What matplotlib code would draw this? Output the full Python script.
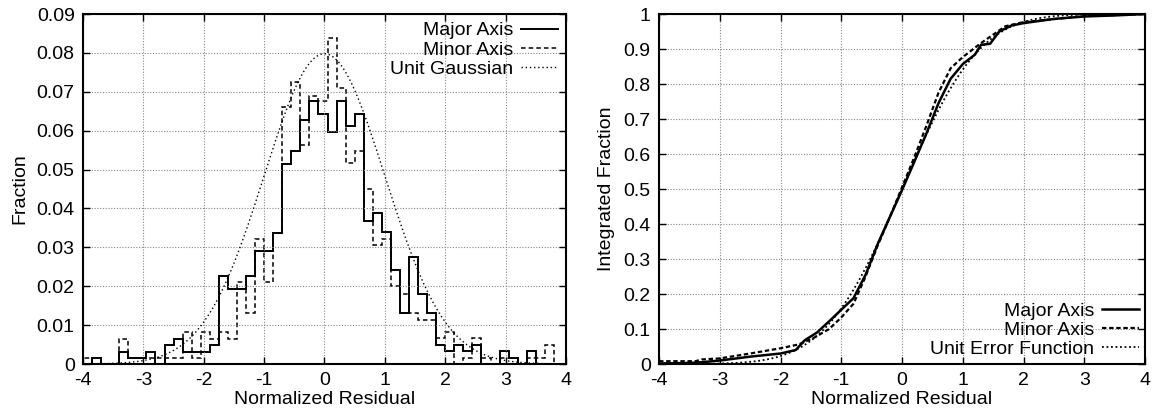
import math
import numpy as np
import matplotlib
matplotlib.use("Agg")
import matplotlib.pyplot as plt

plt.rcParams['font.family'] = ['Liberation Sans', 'DejaVu Sans']
plt.rcParams['font.size'] = 14
plt.rcParams['axes.unicode_minus'] = False

# histogram bins: -4 .. 3.95, width 0.15
bin_edges = np.round(-4 + 0.15 * np.arange(54), 2)

major_frac = [0, 0.0016, 0, 0, 0.0032, 0.0016, 0.0016, 0.0032, 0, 0.0049,
              0.0065, 0.0032, 0.0032, 0.0032, 0.0049, 0.0226, 0.0193, 0.0193, 0.0226, 0.029,
              0.029, 0.0338, 0.0515, 0.0548, 0.0627, 0.0677, 0.0644, 0.0597, 0.0677, 0.0612,
              0.0644, 0.0369, 0.0389, 0.0339, 0.0243, 0.013, 0.0274, 0.0179, 0.013, 0.005,
              0.0033, 0.005, 0.0033, 0.005, 0, 0, 0.0033, 0.0016, 0, 0.0033,
              0, 0, 0]
minor_frac = [0.0016, 0, 0, 0, 0.0065, 0.0016, 0.0016, 0.0016, 0.0016, 0.0016,
              0.0016, 0.0082, 0.0016, 0.0082, 0.0065, 0.0082, 0.0065, 0.021, 0.013, 0.0322,
              0.021, 0.0338, 0.066, 0.0725, 0.0563, 0.069, 0.0677, 0.0838, 0.071, 0.0516,
              0.0548, 0.0449, 0.0305, 0.0322, 0.020, 0.0179, 0.013, 0.0114, 0.0114, 0.0067,
              0.0082, 0, 0.0016, 0.0067, 0.0016, 0, 0.0016, 0.0016, 0, 0.0016,
              0.0016, 0.005, 0]

# integrated fractions
major_cdf_x = [-4, -3.5, -3.3, -3.0, -2.5, -2.0, -1.75, -1.6, -1.4, -1.2, -1.0, -0.8, -0.6,
               -0.4, -0.2, 0.0, 0.2, 0.4, 0.6, 0.8, 1.0, 1.2, 1.3, 1.45, 1.6, 1.8, 2.0,
               2.5, 3.0, 3.5, 4.0]
major_cdf = [0.0015, 0.003, 0.005, 0.01, 0.021, 0.03, 0.04, 0.068, 0.09, 0.122, 0.155,
             0.188, 0.255, 0.343, 0.42, 0.497, 0.577, 0.658, 0.745, 0.815, 0.857, 0.884,
             0.912, 0.915, 0.95, 0.967, 0.974, 0.986, 0.993, 0.996, 1.0]
minor_cdf_x = [-4, -3.4, -3.3, -3.0, -2.5, -2.0, -1.7, -1.45, -1.2, -1.0, -0.8, -0.6, -0.4,
               -0.2, 0.0, 0.2, 0.4, 0.6, 0.8, 1.0, 1.3, 1.5, 1.7, 2.0, 3.0, 4.0]
minor_cdf = [0.008, 0.008, 0.013, 0.016, 0.03, 0.045, 0.056, 0.075, 0.1, 0.133, 0.172,
             0.25, 0.339, 0.42, 0.505, 0.59, 0.68, 0.775, 0.845, 0.877, 0.917, 0.941,
             0.965, 0.977, 0.994, 1.0]

labels_hist = ['Major Axis', 'Minor Axis', 'Unit Gaussian']
labels_cdf = ['Major Axis', 'Minor Axis', 'Unit Error Function']

gauss_scale = 0.2  # unit gaussian times 0.2


def style_axes(ax, ylim, yticks, yfmt):
    ax.set_xlim(-4, 4)
    ax.set_ylim(*ylim)
    ax.set_xticks(range(-4, 5))
    ax.set_yticks(yticks)
    ax.set_yticklabels([yfmt(v) for v in yticks])
    ax.tick_params(direction='in', top=True, right=True, length=5, width=1, pad=6)
    ax.grid(True, color='#888888', linestyle=(0, (1, 1.5)), linewidth=0.8)
    for sp in ax.spines.values():
        sp.set_linewidth(1.5)
    ax.set_xlabel('Normalized Residual', labelpad=1)


fig = plt.figure(figsize=(11.56, 4.2), dpi=100)
ax1 = fig.add_axes([0.0718, 0.1333, 0.4178, 0.8333])
ax2 = fig.add_axes([0.5701, 0.1333, 0.4204, 0.8333])

ax1.stairs(major_frac, bin_edges, color='black', linewidth=1.4, label=labels_hist[0])
ax1.stairs(minor_frac, bin_edges, color='black', linewidth=1.1,
           linestyle=(0, (3, 2)), label=labels_hist[1])
xs = np.linspace(-4, 4, 400)
ax1.plot(xs, gauss_scale * np.exp(-xs ** 2 / 2) / np.sqrt(2 * np.pi), color='black',
         linewidth=1.0, linestyle=(0, (1, 2)), label=labels_hist[2])
style_axes(ax1, (0, 0.09), np.round(np.arange(0, 0.091, 0.01), 2),
           lambda v: '0' if v == 0 else f'{v:.2f}')
ax1.set_ylabel('Fraction', labelpad=6)
ax1.legend(loc='upper right', frameon=False, markerfirst=False, handlelength=1.9,
           handletextpad=0.4, labelspacing=0.08, borderaxespad=0.2, borderpad=0.2,
           alignment='right')

erf = np.vectorize(math.erf)
ax2.plot(major_cdf_x, major_cdf, color='black', linewidth=1.8, label=labels_cdf[0])
ax2.plot(minor_cdf_x, minor_cdf, color='black', linewidth=1.6,
         linestyle=(0, (2, 1.2)), label=labels_cdf[1])
ax2.plot(xs, 0.5 * (1 + erf(xs / np.sqrt(2))), color='black', linewidth=1.3,
         linestyle=(0, (1, 1.5)), label=labels_cdf[2])
style_axes(ax2, (0, 1), np.round(np.arange(0, 1.01, 0.1), 1),
           lambda v: f'{v:g}')
ax2.set_ylabel('Integrated Fraction', labelpad=6)
ax2.legend(loc='lower right', frameon=False, markerfirst=False, handlelength=1.9,
           handletextpad=0.4, labelspacing=0.08, borderaxespad=0.1, borderpad=0.2,
           alignment='right')

fig.savefig('out.png', dpi=100)
